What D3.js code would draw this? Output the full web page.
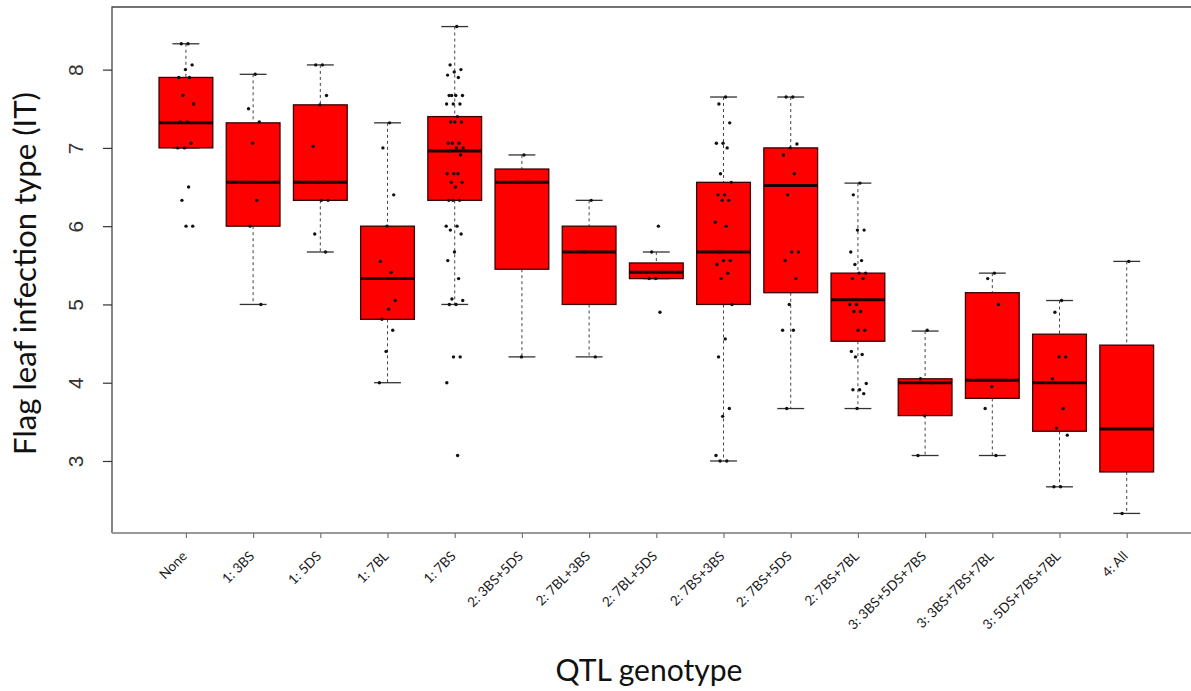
<!DOCTYPE html>
<html>
<head>
<meta charset="utf-8">
<script src="https://cdn.jsdelivr.net/npm/d3@7"></script>
<style>
  html, body { margin: 0; padding: 0; background: #fff; }
  svg { display: block; }
</style>
</head>
<body>
<svg id="chart" width="1191" height="691"></svg>
<script>
// QTL genotype classes, in plotting order
const genotypes = [
  "None", "1: 3BS", "1: 5DS", "1: 7BL", "1: 7BS",
  "2: 3BS+5DS", "2: 7BL+3BS", "2: 7BL+5DS", "2: 7BS+3BS", "2: 7BS+5DS",
  "2: 7BS+7BL", "3: 3BS+5DS+7BS", "3: 3BS+7BS+7BL", "3: 5DS+7BS+7BL", "4: All"
];

// Box statistics per genotype (infection type)
const whiskerLow  = [7.00, 5.00, 5.67, 4.00, 5.00, 4.33, 4.33, 5.33, 3.00, 3.67, 3.67, 3.07, 3.07, 2.67, 2.33];
const lowerHinge  = [7.00, 6.00, 6.33, 4.81, 6.33, 5.45, 5.00, 5.33, 5.00, 5.15, 4.53, 3.58, 3.80, 3.38, 2.86];
const medians     = [7.32, 6.56, 6.56, 5.33, 6.96, 6.56, 5.67, 5.41, 5.67, 6.52, 5.06, 4.00, 4.03, 4.00, 3.41];
const upperHinge  = [7.90, 7.32, 7.55, 6.00, 7.40, 6.73, 6.00, 5.53, 6.56, 7.00, 5.40, 4.05, 5.15, 4.62, 4.48];
const whiskerHigh = [8.33, 7.94, 8.06, 7.32, 8.55, 6.91, 6.33, 5.67, 7.65, 7.65, 6.55, 4.66, 5.40, 5.05, 5.55];

// Individual line means overlaid on each box
const observations = [
  [8.33, 8.33, 8.06, 8.00, 7.90, 7.90, 7.67, 7.56, 7.33, 7.33, 7.06, 7.00, 7.00, 6.50, 6.33, 6.00, 6.00],
  [7.94, 7.50, 7.33, 7.06, 6.56, 6.33, 6.00, 5.00],
  [8.06, 8.06, 7.67, 7.55, 7.02, 6.56, 6.56, 6.33, 6.33, 5.90, 5.67],
  [7.32, 7.00, 6.40, 6.00, 5.55, 5.41, 5.33, 5.05, 4.94, 4.81, 4.67, 4.40, 4.00],
  [8.55, 8.06, 8.00, 7.97, 7.93, 7.90, 7.67, 7.67, 7.67, 7.67, 7.56, 7.56, 7.56, 7.40, 7.33, 7.33,
   7.33, 7.06, 7.06, 7.06, 7.00, 7.00, 6.96, 6.91, 6.67, 6.67, 6.67, 6.56, 6.56, 6.50, 6.33, 6.33,
   6.33, 6.00, 6.00, 5.95, 5.90, 5.67, 5.56, 5.33, 5.07, 5.05, 5.00, 5.00, 4.33, 4.33, 4.00, 3.07],
  [6.91, 6.56, 6.56, 4.33],
  [6.33, 5.67, 4.33],
  [6.00, 5.67, 5.41, 5.33, 5.33, 4.90],
  [7.65, 7.56, 7.32, 7.06, 7.06, 7.00, 6.67, 6.56, 6.40, 6.40, 6.33, 6.33, 6.05, 6.00, 5.67, 5.56,
   5.56, 5.51, 5.40, 5.33, 5.00, 4.56, 4.33, 3.67, 3.57, 3.07, 3.00, 3.00],
  [7.65, 7.65, 7.05, 7.00, 6.91, 6.67, 6.40, 5.67, 5.67, 5.56, 5.33, 5.00, 4.67, 4.67, 3.67],
  [6.55, 6.40, 5.95, 5.95, 5.67, 5.56, 5.51, 5.40, 5.40, 5.33, 5.33, 5.00, 5.00, 4.91, 4.91, 4.67,
   4.67, 4.40, 4.36, 4.33, 3.99, 3.91, 3.91, 3.86, 3.67],
  [4.67, 4.05, 4.00, 3.58, 3.07],
  [5.40, 5.33, 5.00, 3.95, 3.67, 3.07],
  [5.05, 4.90, 4.33, 4.33, 4.05, 3.67, 3.42, 3.33, 2.67, 2.67],
  [5.55, 2.33]
];

const yTicks = [3, 4, 5, 6, 7, 8];
const yTitle = "Flag leaf infection type (IT)";
const xTitle = "QTL genotype";

const svg = d3.select("#chart");

// Plot region (frame extends past the right edge of the canvas)
const plot = { left: 112, top: 7, bottom: 533 };
const n = genotypes.length;

const x = d3.scaleLinear()
  .domain([-0.1, n + 1.1])
  .range([plot.left, plot.left + (n + 1.2) * 67.2]);
const y = d3.scaleLinear()
  .domain([2.08, 8.80])
  .range([plot.bottom, plot.top]);

const boxW = x(0.8) - x(0);
const capW = boxW / 2;
const jitterW = x(0.13) - x(0);

// Frame: left and top edges
svg.append("path")
  .attr("d", `M${plot.left},${plot.bottom} V${plot.top} H1191`)
  .attr("fill", "none").attr("stroke", "#444").attr("stroke-width", 1.3);

// Y axis
const yAxis = svg.append("g")
  .attr("transform", `translate(${plot.left},0)`)
  .call(d3.axisLeft(y).tickValues(yTicks).tickSize(9).tickPadding(6).tickFormat(d3.format("d")));
yAxis.select(".domain").remove();
yAxis.selectAll(".tick line").attr("stroke", "#333").attr("stroke-width", 1.2);
yAxis.selectAll(".tick text")
  .attr("font-family", "'Liberation Sans', Arial, sans-serif")
  .attr("font-size", 21)
  .attr("fill", "#333")
  .attr("text-anchor", "middle")
  .attr("x", null).attr("dy", null)
  .attr("transform", "translate(-29,0) rotate(-90)");

// X axis
const xAxis = svg.append("g")
  .attr("transform", `translate(0,${plot.bottom})`)
  .call(d3.axisBottom(x).tickValues(d3.range(1, n + 1)).tickSize(5).tickFormat(""));
xAxis.select(".domain")
  .attr("d", `M${plot.left},0 H1191`)
  .attr("stroke", "#999").attr("stroke-width", 2);
xAxis.selectAll(".tick line").attr("stroke", "#777").attr("stroke-width", 1.2);

// Rotated genotype labels, sized so the longest one spans ~104px
const xLabels = svg.append("g").selectAll("text")
  .data(genotypes)
  .join("text")
  .attr("text-anchor", "end")
  .attr("font-family", "Lato, 'Open Sans', sans-serif")
  .attr("font-size", 14)
  .attr("fill", "#1a1a1a")
  .text(d => d);
const longest = d3.max(xLabels.nodes(), nd => nd.getComputedTextLength());
const labelSize = 14 * 104 / longest;
xLabels
  .attr("font-size", labelSize)
  .attr("transform", (d, i) => `translate(${x(i + 1) + 2},${plot.bottom + 24}) rotate(-45)`);

// Boxes
const boxes = svg.append("g").selectAll("g")
  .data(genotypes)
  .join("g")
  .attr("transform", (d, i) => `translate(${x(i + 1)},0)`);

// whiskers (dashed)
boxes.append("line")
  .attr("x1", 0).attr("x2", 0)
  .attr("y1", (d, i) => y(whiskerHigh[i])).attr("y2", (d, i) => y(upperHinge[i]))
  .attr("stroke", "#444").attr("stroke-width", 1).attr("stroke-dasharray", "3,3");
boxes.append("line")
  .attr("x1", 0).attr("x2", 0)
  .attr("y1", (d, i) => y(lowerHinge[i])).attr("y2", (d, i) => y(whiskerLow[i]))
  .attr("stroke", "#444").attr("stroke-width", 1).attr("stroke-dasharray", "3,3");
// staples
boxes.append("line")
  .attr("x1", -capW / 2).attr("x2", capW / 2)
  .attr("y1", (d, i) => y(whiskerHigh[i])).attr("y2", (d, i) => y(whiskerHigh[i]))
  .attr("stroke", "#333").attr("stroke-width", 1.3);
boxes.append("line")
  .attr("x1", -capW / 2).attr("x2", capW / 2)
  .attr("y1", (d, i) => y(whiskerLow[i])).attr("y2", (d, i) => y(whiskerLow[i]))
  .attr("stroke", "#333").attr("stroke-width", 1.3);
// hinge box
boxes.append("rect")
  .attr("x", -boxW / 2).attr("width", boxW)
  .attr("y", (d, i) => y(upperHinge[i]))
  .attr("height", (d, i) => y(lowerHinge[i]) - y(upperHinge[i]))
  .attr("fill", "#ff0000").attr("stroke", "#3a0000").attr("stroke-width", 1.3);
// median
boxes.append("line")
  .attr("x1", -boxW / 2).attr("x2", boxW / 2)
  .attr("y1", (d, i) => y(medians[i])).attr("y2", (d, i) => y(medians[i]))
  .attr("stroke", "#1a0000").attr("stroke-width", 3);

// Observations, spread horizontally with a golden-ratio offset sequence
const spread = k => ((k * 0.6180339887) % 1 - 0.5) * 2;
boxes.selectAll("circle")
  .data((d, i) => observations[i])
  .join("circle")
  .attr("cx", (v, k) => spread(k + 1) * jitterW)
  .attr("cy", v => y(v))
  .attr("r", 1.7)
  .attr("fill", "#111");

// Axis titles
const yt = svg.append("text")
  .attr("transform", `translate(36,${(92 + 455) / 2}) rotate(-90)`)
  .attr("text-anchor", "middle")
  .attr("font-family", "Lato, 'Open Sans', sans-serif")
  .attr("font-size", 30)
  .attr("fill", "#111")
  .text(yTitle);
const ytLen = yt.node().getComputedTextLength();
yt.attr("font-size", 30 * 363 / ytLen);

const xt = svg.append("text")
  .attr("x", 649).attr("y", 681)
  .attr("text-anchor", "middle")
  .attr("font-family", "Lato, 'Open Sans', sans-serif")
  .attr("font-size", 28)
  .attr("fill", "#111")
  .text(xTitle);
const xtLen = xt.node().getComputedTextLength();
xt.attr("font-size", 28 * 187 / xtLen);
</script>
</body>
</html>
